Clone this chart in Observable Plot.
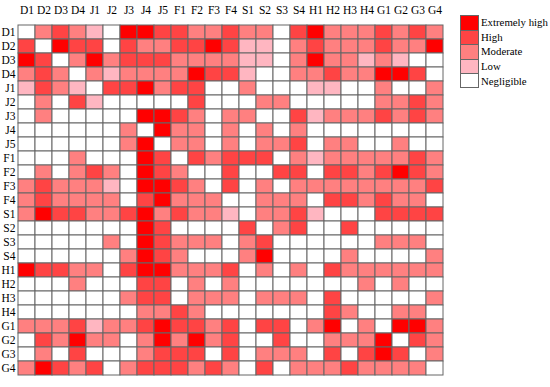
<!DOCTYPE html>
<html>
<head>
<meta charset="utf-8">
<script src="https://cdn.jsdelivr.net/npm/d3@7"></script>
<script src="https://cdn.jsdelivr.net/npm/@observablehq/plot@0.6"></script>
<style>
  html, body { margin: 0; padding: 0; background: #fff; }
  #wrap { position: relative; width: 550px; height: 387px; overflow: hidden; }
  #chart { position: absolute; left: 0; top: 0; }
  #legend { position: absolute; left: 460px; top: 15px; font-family: "Liberation Serif", "Times New Roman", serif; font-size: 10.8px; color: #000; }
  .item { display: flex; align-items: center; height: 14.6px; }
  .sw { width: 17px; height: 13.6px; border: 1px solid #666; border-bottom: none; box-sizing: content-box; }
  .item:last-child .sw { border-bottom: 1px solid #666; height: 13.6px; }
  .lab { margin-left: 2px; white-space: nowrap; }
</style>
</head>
<body>
<div id="wrap"><div id="chart"></div><div id="legend"></div></div>
<script>
const labels = ["D1","D2","D3","D4","J1","J2","J3","J4","J5","F1","F2","F3","F4","S1","S2","S3","S4","H1","H2","H3","H4","G1","G2","G3","G4"];
const levelNames = ["Negligible","Low","Moderate","High","Extremely high"];
const levelValues = [0, 1, 2, 3, 4];
const levelColors = ["#ffffff", "#ffb6c1", "#ff8080", "#ff4444", "#ff0000"];

// one array per row (0 = Negligible ... 4 = Extremely high), columns in label order
const rD1 = [0,2,3,2,1,0,4,4,3, 3,2,2,3,2,2,0,3, 4,2,2,2,3,2,3,2];
const rD2 = [3,0,4,3,3,0,3,2,2, 3,3,4,3,1,1,0,2, 3,2,2,2,3,2,2,4];
const rD3 = [4,3,0,2,4,2,3,3,3, 2,2,2,2,1,1,0,2, 4,2,2,1,2,1,0,0];
const rD4 = [2,3,2,0,2,1,2,2,2, 2,4,3,3,1,0,0,2, 2,3,2,2,4,4,3,0];
const rJ1 = [1,3,2,1,0,3,3,4,2, 3,3,0,0,2,0,0,0, 1,1,0,0,2,0,0,2];
const rJ2 = [0,2,0,3,1,0,0,0,0, 0,3,0,0,0,2,2,0, 0,0,0,0,2,2,3,2];
const rJ3 = [0,2,0,0,0,0,0,4,4, 3,2,0,2,2,0,0,3, 1,2,2,2,3,2,3,2];
const rJ4 = [0,0,0,0,0,0,2,0,4, 2,2,0,2,0,2,0,2, 0,0,0,0,0,0,0,0];
const rJ5 = [0,0,0,0,0,0,2,4,0, 2,2,0,2,0,2,2,3, 0,2,2,0,0,2,0,0];
const rF1 = [0,0,0,2,0,0,0,4,3, 0,3,2,3,3,3,0,2, 1,2,2,2,2,2,3,2];
const rF2 = [0,2,0,2,3,2,0,4,3, 2,0,0,3,0,0,3,3, 0,3,3,2,3,4,3,2];
const rF3 = [2,3,2,2,2,1,0,4,4, 3,2,0,3,0,2,0,2, 2,2,2,2,2,2,2,3];
const rF4 = [2,3,2,2,2,2,0,3,4, 2,2,2,0,0,2,2,2, 0,3,3,2,3,2,2,0];
const rS1 = [2,4,3,3,2,2,3,4,2, 3,2,2,1,0,2,2,3, 1,0,0,0,3,3,3,3];
const rS2 = [0,0,0,0,0,0,0,4,3, 0,0,0,0,3,0,2,3, 0,0,3,0,0,0,0,0];
const rS3 = [0,0,0,0,0,2,0,4,3, 2,2,2,0,2,3,0,0, 0,0,0,0,2,2,2,0];
const rS4 = [0,0,0,0,0,0,2,4,3, 2,0,0,0,2,4,0,0, 0,0,2,0,0,0,0,2];
const rH1 = [4,3,3,2,2,0,3,4,4, 2,2,2,3,0,2,0,2, 0,3,2,2,2,2,2,2];
const rH2 = [0,0,0,2,0,0,0,3,3, 0,2,0,2,0,0,0,0, 0,0,0,2,0,2,0,0];
const rH3 = [0,0,0,0,0,0,2,3,3, 0,2,2,2,0,2,2,2, 0,3,0,0,0,0,0,2];
const rH4 = [0,0,0,0,0,0,0,2,2, 3,2,0,0,0,0,0,0, 0,3,2,0,0,2,2,0];
const rG1 = [2,2,2,3,1,2,2,3,4, 3,3,2,3,0,3,3,0, 2,4,0,2,0,4,4,2];
const rG2 = [0,3,2,4,2,2,0,2,4, 2,4,2,3,0,0,3,0, 0,2,2,2,4,0,3,2];
const rG3 = [0,2,0,3,0,0,0,2,3, 3,3,0,3,0,2,2,2, 0,3,0,3,4,3,0,2];
const rG4 = [2,4,3,2,3,0,2,3,3, 3,2,3,2,0,3,0,2, 2,2,3,2,2,2,2,0];

const matrix = [rD1,rD2,rD3,rD4,rJ1,rJ2,rJ3,rJ4,rJ5,rF1,rF2,rF3,rF4,rS1,rS2,rS3,rS4,rH1,rH2,rH3,rH4,rG1,rG2,rG3,rG4];

const cells = [];
labels.forEach((r, i) => matrix[i].forEach((v, j) => cells.push({row: r, col: labels[j], level: v})));

const chart = Plot.plot({
  width: 455,
  height: 387,
  marginLeft: 17,
  marginTop: 16,
  marginRight: 11,
  marginBottom: 4,
  style: {fontFamily: "'Liberation Serif', 'Times New Roman', serif", fontSize: "11.5px", color: "#000", background: "#fff"},
  x: {domain: labels, axis: "top", tickSize: 0, tickPadding: 3, label: null, padding: 0},
  y: {domain: labels, tickSize: 0, tickPadding: 2, label: null, padding: 0},
  color: {type: "ordinal", domain: levelValues, range: levelColors},
  marks: [
    Plot.cell(cells, {x: "col", y: "row", fill: "level", stroke: "#666", strokeWidth: 1, inset: 0})
  ]
});
document.getElementById("chart").appendChild(chart);

const legend = document.getElementById("legend");
levelValues.slice().reverse().forEach(v => {
  const item = document.createElement("div");
  item.className = "item";
  const sw = document.createElement("div");
  sw.className = "sw";
  sw.style.background = levelColors[v];
  const lab = document.createElement("span");
  lab.className = "lab";
  lab.textContent = levelNames[v];
  item.appendChild(sw);
  item.appendChild(lab);
  legend.appendChild(item);
});
</script>
</body>
</html>
